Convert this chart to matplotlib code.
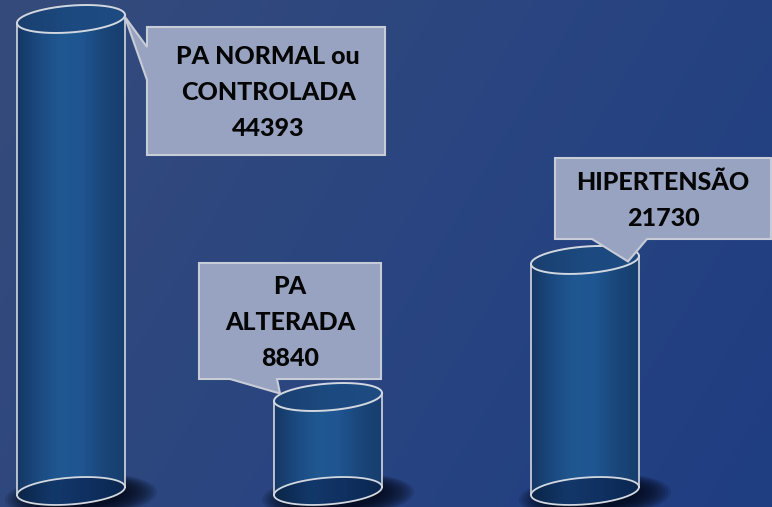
import numpy as np
import matplotlib
matplotlib.use("Agg")
import matplotlib.pyplot as plt
from matplotlib.path import Path
from matplotlib.patches import PathPatch, Polygon
from matplotlib.colors import LinearSegmentedColormap

# ---------------- data ----------------
categories = ["PA NORMAL ou\nCONTROLADA", "PA\nALTERADA", "HIPERTENSÃO"]
values = [44393, 8840, 21730]

# ---------------- layout (pixels) ----------------
W, H = 772, 507
PX_X = 257.0      # pixels per category step
X0_PX = 71.0      # pixel x of first category centre
BASE_PX = 491.0   # pixel row of cylinder bases
TOP_PX = 19.0     # pixel row of tallest cylinder top
A_PX, B_PX, S_PX = 54.0, 13.4, 4.0   # ellipse half width, half height, tilt

fig = plt.figure(figsize=(W / 100, H / 100), dpi=100)
ax = fig.add_axes([0, 0, 1, 1])
ax.set_axis_off()
ypp = max(values) / (BASE_PX - TOP_PX)
ax.set_xlim(-X0_PX / PX_X, (W - X0_PX) / PX_X)
ax.set_ylim(-(H - BASE_PX) * ypp, BASE_PX * ypp)
xl, yl = ax.get_xlim(), ax.get_ylim()


def P(px, py):
    return (xl[0] + px / PX_X, (BASE_PX - py) * ypp)


A = A_PX / PX_X
B = B_PX * ypp
S = S_PX * ypp

# background gradient
u = np.linspace(0, 1, 400)[None, :]
v = np.linspace(0, 1, 300)[:, None]
bg = 0.72 * u + 0.28 * v
bg_cmap = LinearSegmentedColormap.from_list("bg", ["#354b7b", "#2a4580", "#1f3d82"])
ax.imshow(bg, extent=[xl[0], xl[1], yl[0], yl[1]], origin="upper", cmap=bg_cmap,
          aspect="auto", zorder=0, interpolation="bicubic")

body_cmap = LinearSegmentedColormap.from_list(
    "body", ["#153764", "#1b4a80", "#205891", "#1f5592", "#1a4679", "#173e6e"])
bot_cmap = LinearSegmentedColormap.from_list(
    "bot", ["#0b2548", "#12386a", "#0f3060", "#0b2650"])
top_cmap = LinearSegmentedColormap.from_list(
    "top", ["#1a3f6f", "#1c4a80", "#1d4b82"])

EDGE = "#d3d7df"


def ell_pts(cx, cy, t):
    return cx + A * np.cos(t), cy + B * np.sin(t) + S * np.cos(t)


for i, val in enumerate(values):
    cx = i
    # shadow
    for k in range(14):
        f = 1.0 - k * 0.035
        t = np.linspace(0, 2 * np.pi, 100)
        sx = cx + 10 / PX_X + (A + 22 / PX_X) * f * np.cos(t)
        sy = -5 * ypp + (B + 9 * ypp) * f * np.sin(t) + S * np.cos(t)
        ax.fill(sx, sy, color="#040a1a", alpha=0.13, lw=0, zorder=1)

    # body
    t_low = np.linspace(np.pi, 2 * np.pi, 80)
    t_up = np.linspace(0, np.pi, 80)
    bx, by = ell_pts(cx, 0, t_low)
    tx, ty = ell_pts(cx, val, t_up)
    verts = list(zip(bx, by)) + list(zip(tx, ty))
    body_path = Path(verts + [verts[0]], closed=True)
    patch = PathPatch(body_path, facecolor="none", edgecolor="none")
    ax.add_patch(patch)
    grad = np.linspace(0, 1, 200)[None, :]
    im = ax.imshow(grad, extent=[cx - A, cx + A, -B - S, val + B + S], cmap=body_cmap,
                   aspect="auto", zorder=2, interpolation="bicubic")
    im.set_clip_path(patch)

    # bottom ellipse (seen through)
    t = np.linspace(0, 2 * np.pi, 160)
    ex, ey = ell_pts(cx, 0, t)
    bpatch = Polygon(np.column_stack([ex, ey]), closed=True, facecolor="none", edgecolor="none")
    ax.add_patch(bpatch)
    im2 = ax.imshow(grad, extent=[cx - A, cx + A, -B - S, B + S], cmap=bot_cmap,
                    aspect="auto", zorder=3, interpolation="bicubic")
    im2.set_clip_path(bpatch)
    ax.plot(ex, ey, color=EDGE, lw=1.3, zorder=4, solid_capstyle="round")

    # sides
    ax.plot([cx - A, cx - A], [-S, val - S], color=EDGE, lw=1.2, zorder=4)
    ax.plot([cx + A, cx + A], [S, val + S], color=EDGE, lw=1.2, zorder=4)

    # top ellipse
    ex, ey = ell_pts(cx, val, t)
    tpatch = Polygon(np.column_stack([ex, ey]), closed=True, facecolor="none", edgecolor="none")
    ax.add_patch(tpatch)
    im3 = ax.imshow(grad, extent=[cx - A, cx + A, val - B - S, val + B + S], cmap=top_cmap,
                    aspect="auto", zorder=5, interpolation="bicubic")
    im3.set_clip_path(tpatch)
    ax.plot(ex, ey, color=EDGE, lw=1.4, zorder=5)

# ---------------- callouts ----------------
callouts = [
    dict(box=(147, 27, 385, 155), side="left", base=(47, 80), tip=(54, -2),
         tc=(268, 56), pitch=36),
    dict(box=(199, 263, 381, 379), side="bottom", base=(230, 277), tip=(-48, -3.5),
         tc=(290, 287), pitch=35.5),
    dict(box=(555, 158, 771, 239), side="bottom", base=(592, 647), tip=(43, 1.5),
         tc=(663, 183), pitch=35),
]

for i, (cat, val, c) in enumerate(zip(categories, values, callouts)):
    L, T, R, Bt = c["box"]
    tipx = i + c["tip"][0] / PX_X
    tipy = val - c["tip"][1] * ypp
    if c["side"] == "left":
        pts = [P(L, T), P(R, T), P(R, Bt), P(L, Bt), P(L, c["base"][1]),
               (tipx, tipy), P(L, c["base"][0])]
    else:
        pts = [P(L, T), P(R, T), P(R, Bt), P(c["base"][1], Bt), (tipx, tipy),
               P(c["base"][0], Bt), P(L, Bt)]
    ax.add_patch(Polygon(pts, closed=True, facecolor="#97a3c0", edgecolor="#c8ccd6",
                         lw=1.5, zorder=6, joinstyle="miter"))
    lines = cat.split("\n") + [str(val)]
    for k, line in enumerate(lines):
        x, y = P(c["tc"][0], c["tc"][1] + k * c["pitch"])
        ax.text(x, y, line, ha="center", va="center", fontsize=18, fontweight=900,
                family=["Lato", "DejaVu Sans"], color="#050505", zorder=7)

ax.set_xlim(xl)
ax.set_ylim(yl)
fig.savefig("out.png", dpi=100)
